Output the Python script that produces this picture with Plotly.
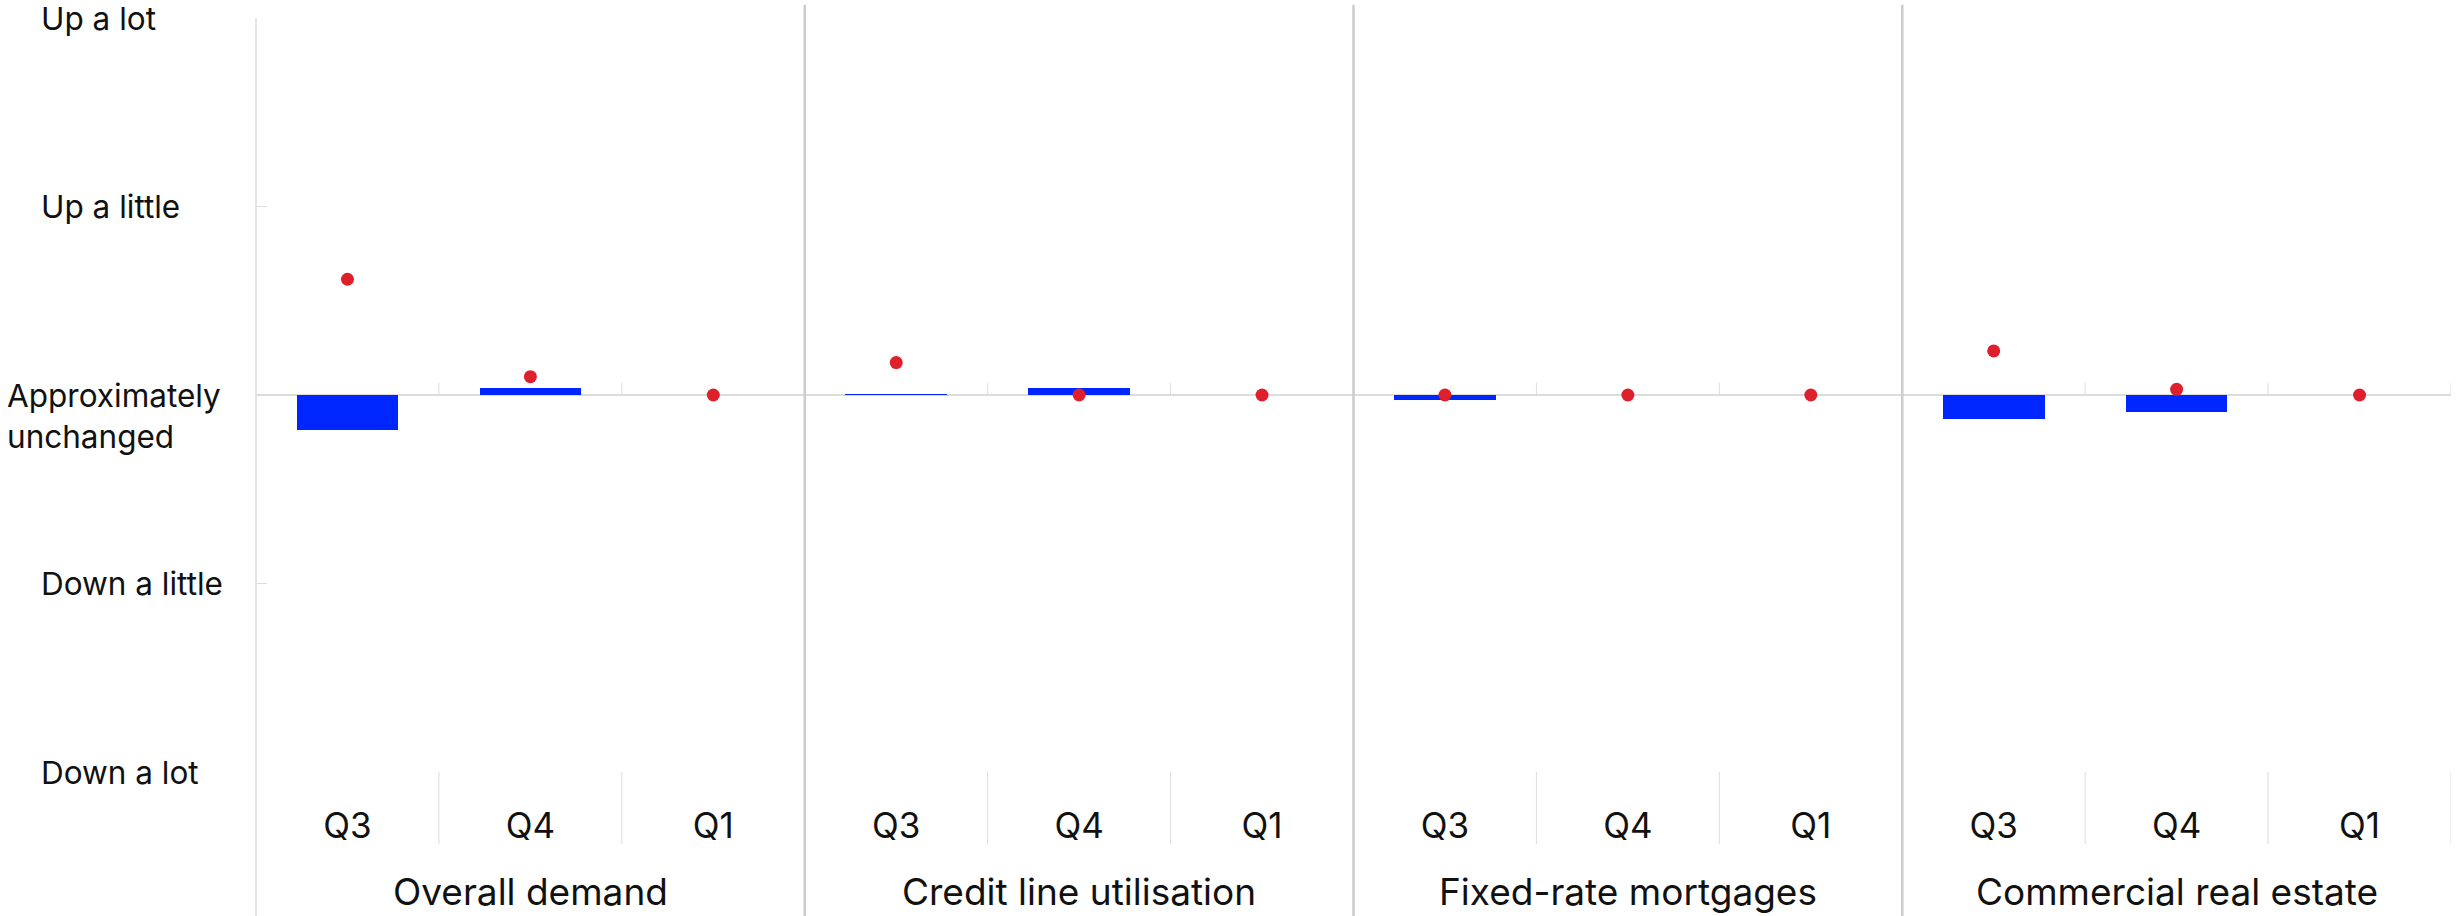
import plotly.graph_objects as go

groups = ["Overall demand", "Credit line utilisation", "Fixed-rate mortgages", "Commercial real estate"]
quarters = ["Q3", "Q4", "Q1"]
# bar values (blue) per group, per quarter
bar_values = [
    [-0.186, 0.035, 0.0],
    [0.003, 0.035, 0.0],
    [-0.028, 0.0, 0.0],
    [-0.127, -0.092, 0.0],
]
# dot values (red) per group, per quarter
dot_values = [
    [0.614, 0.097, 0.0],
    [0.172, 0.0, 0.0],
    [0.0, 0.0, 0.0],
    [0.234, 0.03, 0.0],
]
y_tick_vals = [2, 1, 0, -1, -2]
y_tick_text = ["Up a lot", "Up a little", "Approximately<br>unchanged", "Down a little", "Down a lot"]

FONT = "Inter, Arial, sans-serif"
BLUE = "#0026ff"
RED = "#de1f2c"
GRID = "#dcdcdc"
DIV = "#cccccc"
TXT = "#111111"

nq = len(quarters)
xs, xlabels, bars, dots = [], [], [], []
for gi, g in enumerate(groups):
    for qi, q in enumerate(quarters):
        xs.append(gi * nq + qi)
        xlabels.append(q)
        bars.append(bar_values[gi][qi])
        dots.append(dot_values[gi][qi])

fig = go.Figure()
fig.add_trace(go.Bar(x=xs, y=bars, width=0.556, marker=dict(color=BLUE, line=dict(width=0)),
                     showlegend=False))
fig.add_trace(go.Scatter(x=xs, y=dots, mode="markers",
                         marker=dict(color=RED, size=13, line=dict(width=0)), showlegend=False))

n = len(xs)
shapes = []
# y axis line extended to bottom
shapes.append(dict(type="line", xref="paper", yref="paper", x0=0, x1=0, y0=1, y1=-0.1915,
                   line=dict(color=GRID, width=1.5)))
for gi in range(len(groups)):
    for qi in range(nq):
        b = gi * nq + qi + 0.5
        if qi == nq - 1 and gi < len(groups) - 1:
            shapes.append(dict(type="line", xref="x", yref="paper", x0=b, x1=b, y0=1.0177, y1=-0.1915,
                               line=dict(color=DIV, width=2.5)))
        else:
            shapes.append(dict(type="line", xref="x", yref="y", x0=b, x1=b, y0=0, y1=0.065,
                               line=dict(color=GRID, width=1)))
            shapes.append(dict(type="line", xref="x", yref="paper", x0=b, x1=b, y0=0, y1=-0.0956,
                               line=dict(color=GRID, width=1)))

annotations = []
for v, t in zip(y_tick_vals, y_tick_text):
    if "<br>" in t:
        annotations.append(dict(x=(5 - 256) / 2195.0, xref="paper", y=v, yref="y", text=t,
                                showarrow=False, xanchor="left", yanchor="top", align="left",
                                yshift=21, font=dict(family=FONT, size=31.5, color=TXT)))
    else:
        annotations.append(dict(x=(39 - 256) / 2195.0, xref="paper", y=v, yref="y", text=t,
                                showarrow=False, xanchor="left", yanchor="middle", align="left",
                                font=dict(family=FONT, size=31.5, color=TXT)))

for gi, g in enumerate(groups):
    annotations.append(dict(x=gi * nq + (nq - 1) / 2, xref="x", y=-0.1584, yref="paper", text=g,
                            showarrow=False, xanchor="center", yanchor="middle",
                            font=dict(family=FONT, size=37, color=TXT)))

fig.update_layout(
    width=2459, height=916,
    margin=dict(l=256, r=8, t=18, b=144),
    paper_bgcolor="white", plot_bgcolor="white",
    bargap=0,
    shapes=shapes, annotations=annotations,
    xaxis=dict(range=[-0.5, n - 0.5], tickvals=xs, ticktext=xlabels, showgrid=False, zeroline=False,
               showline=False, ticks="", ticklabelstandoff=30,
               tickfont=dict(family=FONT, size=35, color=TXT)),
    yaxis=dict(range=[-2, 2], tickvals=y_tick_vals, showticklabels=False, showgrid=False,
               zeroline=True, zerolinecolor=GRID, zerolinewidth=2, showline=False,
               ticks="inside", ticklen=11, tickcolor=GRID, tickwidth=1),
)
fig.write_html("out.html")
